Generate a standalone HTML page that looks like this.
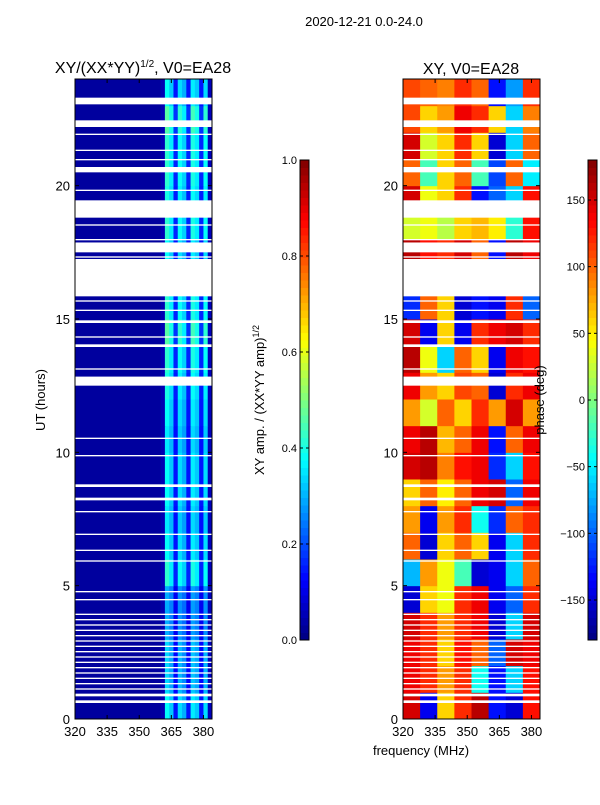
<!DOCTYPE html>
<html><head><meta charset="utf-8"><style>
body{margin:0;background:#fff;width:600px;height:800px;overflow:hidden;font-family:"Liberation Sans",sans-serif}
svg text{font-family:"Liberation Sans",sans-serif}
</style></head><body>
<svg id="chart" width="600" height="800" xmlns="http://www.w3.org/2000/svg">
<text x="364" y="26" font-size="13" text-anchor="middle">2020-12-21 0.0-24.0</text>
<text x="143" y="73" font-size="16" text-anchor="middle">XY/(XX*YY)<tspan font-size="10" dy="-6">1/2</tspan><tspan dy="6">, V0=EA28</tspan></text>
<text x="471" y="74" font-size="16" text-anchor="middle">XY, V0=EA28</text>
<g id="left"></g>
<g id="right"></g>
<g id="cb"></g>
<text transform="translate(45,400) rotate(-90)" font-size="13" text-anchor="middle">UT (hours)</text>
<text transform="translate(264,400) rotate(-90)" font-size="13" text-anchor="middle">XY amp. / (XX*YY amp)<tspan font-size="9" dy="-5">1/2</tspan></text>
<text transform="translate(544,400) rotate(-90)" font-size="13" text-anchor="middle">phase (deg)</text>
<text x="421" y="755" font-size="13" text-anchor="middle">frequency (MHz)</text>
</svg>
<script>
const hourTicks=[0,5,10,15,20];
const freqTicks=[320,335,350,365,380];
const ampTicks=[0.0,0.2,0.4,0.6,0.8,1.0];
const phaseTicks=[-150,-100,-50,0,50,100,150];
// amplitude per 2-MHz channel bin (320..384)
const ampProfile=[0.03,0.03,0.03,0.03,0.03,0.03,0.03,0.03,0.03,0.03,0.03,0.03,0.03,0.03,0.03,0.03,0.03,0.03,0.03,0.03,0.05,0.42,0.36,0.16,0.38,0.33,0.16,0.4,0.36,0.16,0.38,0.06];
// time modulation per hour (0..23)
const ampTime=[0.9,0.8,0.8,0.7,0.7,1.0,0.9,0.85,0.9,0.9,0.85,0.9,0.95,1.0,1.1,1.0,1.0,0.9,1.0,0.95,1.0,1.0,1.1,0.9];
// phase in degrees, rows hour 0..23 (bottom to top), 8 bands of 8 MHz
const phaseGrid=[
[150,-140,60,120,160,-130,-150,130],
[140,120,80,120,-40,-130,-60,130],
[140,120,60,130,100,-100,150,140],
[150,120,80,120,140,-150,-60,150],
[-150,60,40,120,140,-140,-100,120],
[-70,80,40,-20,-150,-140,-60,100],
[100,-150,60,100,60,-140,-60,120],
[80,-140,80,120,-40,-120,100,120],
[60,100,50,100,140,150,-100,140],
[150,160,90,130,140,-120,-60,130],
[140,160,70,100,140,-130,100,140],
[80,30,100,60,120,80,150,80],
[140,80,60,110,100,-150,120,140],
[160,40,-60,100,60,-140,140,130],
[150,-140,60,-140,120,140,150,120],
[-120,100,60,-150,-130,-140,120,-100],
[100,100,100,100,100,100,100,100],
[160,130,120,150,100,-130,160,140],
[30,40,20,60,70,50,-30,130],
[150,40,60,120,-130,-100,-60,130],
[100,-20,60,100,-20,-110,100,-50],
[150,30,60,120,60,-150,-60,100],
[110,60,80,140,120,60,-60,90],
[110,100,90,120,100,-130,-80,120]];
// flagged time ranges (hours)
const gaps=[[23.05,23.3],[22.2,22.45],[21.9,21.95],[21.3,21.35],[20.95,21.0],[20.5,20.7],[19.8,19.85],[18.8,19.45],[18.5,18.55],[17.95,18.0],[17.5,17.87],[17.3,17.35],[15.85,17.25],[15.65,15.7],[15.3,15.35],[14.85,14.95],[14.3,14.35],[13.95,14.05],[13.1,13.15],[12.5,12.84],[10.5,10.55],[9.85,9.9],[8.7,8.8],[8.2,8.3],[7.75,7.8],[6.9,6.95],[6.3,6.35],[5.9,5.95],[4.75,4.8],[4.45,4.5],[3.9,3.95],[3.7,3.75],[3.5,3.55],[3.3,3.35],[3.1,3.15],[2.9,2.95],[2.7,2.75],[2.5,2.55],[2.3,2.35],[2.1,2.15],[1.9,1.95],[1.7,1.75],[1.5,1.55],[1.3,1.35],[1.1,1.15],[0.85,0.95],[0.6,0.7]];

const NS="http://www.w3.org/2000/svg";
function mk(p,t,a){const e=document.createElementNS(NS,t);for(const k in a)e.setAttribute(k,a[k]);p.appendChild(e);return e;}
function jet(v){v=Math.max(0,Math.min(1,v));
 const r=Math.max(0,Math.min(1,1.5-Math.abs(4*v-3))),g=Math.max(0,Math.min(1,1.5-Math.abs(4*v-2))),b=Math.max(0,Math.min(1,1.5-Math.abs(4*v-1)));
 return `rgb(${r*255|0},${g*255|0},${b*255|0})`;}
const Y0=719,Y1=79;const yS=h=>Y0-(h/24)*(Y0-Y1);
const F0=320,F1=384;
function panel(g,x0,x1,drawCells){
 const xS=f=>x0+(f-F0)/(F1-F0)*(x1-x0);
 drawCells(xS);
 gaps.forEach(gp=>{const r=mk(g,'rect',{x:x0,y:yS(gp[1]),width:x1-x0,height:yS(gp[0])-yS(gp[1]),fill:'#fff'});
 
 });
 const fr=mk(g,'rect',{x:x0,y:Y1,width:x1-x0,height:Y0-Y1,fill:'none',stroke:'#000','stroke-width':1});
 
 
 hourTicks.forEach(h=>{const y=yS(h);mk(g,'line',{x1:x0,x2:x0+4,y1:y,y2:y,stroke:'#000'});mk(g,'line',{x1:x1,x2:x1-4,y1:y,y2:y,stroke:'#000'});
  const t=mk(g,'text',{x:x0-5,y:y+5,'font-size':13,'text-anchor':'end'});t.textContent=h;
  
  });
 freqTicks.forEach(f=>{const x=xS(f);mk(g,'line',{x1:x,x2:x,y1:Y0,y2:Y0-4,stroke:'#000'});mk(g,'line',{x1:x,x2:x,y1:Y1,y2:Y1+4,stroke:'#000'});
  const t=mk(g,'text',{x:x,y:Y0+17,'font-size':13,'text-anchor':'middle'});t.textContent=f;
  
  });
}
const L=document.getElementById('left'),R=document.getElementById('right');
panel(L,75,212,xS=>{
 const bw=(F1-F0)/ampProfile.length;
 for(let h=0;h<24;h++)ampProfile.forEach((a,i)=>{
  const v=a>0.1?a*ampTime[h]:a;
  const r=mk(L,'rect',{x:xS(F0+i*bw),y:yS(h+1),width:xS(F0+(i+1)*bw)-xS(F0+i*bw)+0.5,height:yS(h)-yS(h+1)+0.5,fill:jet(v)});
  
  });
});
panel(R,403,540,xS=>{
 const bw=(F1-F0)/8;
 phaseGrid.forEach((row,h)=>row.forEach((p,i)=>{
  const r=mk(R,'rect',{x:xS(F0+i*bw),y:yS(h+1),width:xS(F0+(i+1)*bw)-xS(F0+i*bw)+0.5,height:yS(h)-yS(h+1)+0.5,fill:jet((p+180)/360)});
  
  }));
});
const CB=document.getElementById('cb');
function cbar(x,lo,hi,ticks,name){
 const top=160,bot=640,n=64;
 for(let i=0;i<n;i++){mk(CB,'rect',{x:x,y:bot-(i+1)*(bot-top)/n,width:9,height:(bot-top)/n+0.5,fill:jet((i+0.5)/n)});}
 const f=mk(CB,'rect',{x:x,y:top,width:9,height:bot-top,fill:'none',stroke:'#000'});
 
 
 ticks.forEach(v=>{const y=bot-(v-lo)/(hi-lo)*(bot-top);
  mk(CB,'line',{x1:x,x2:x+3,y1:y,y2:y,stroke:'#000'});mk(CB,'line',{x1:x+9,x2:x+6,y1:y,y2:y,stroke:'#000'});
  const t=mk(CB,'text',{x:x-3,y:y+4,'font-size':11,'text-anchor':'end'});t.textContent=(lo===0?v.toFixed(1):String(v).replace('-','\u2212'));
  
  });
}
cbar(300,0,1,ampTicks,'amp-colorbar');
cbar(588,-180,180,phaseTicks,'phase-colorbar');
</script>
</body></html>
